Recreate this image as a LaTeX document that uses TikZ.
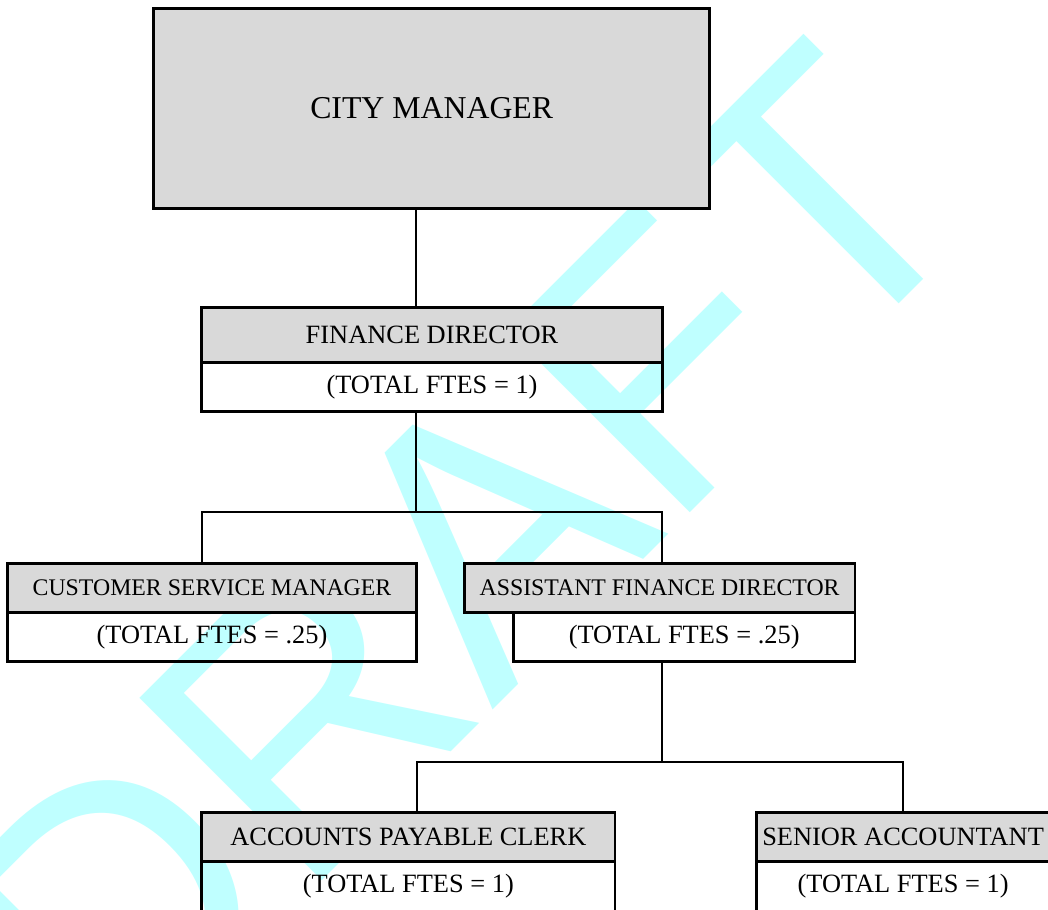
\documentclass[tikz,border=0pt]{standalone}
\usepackage{fontspec}
\setmainfont{Liberation Serif}
\newfontfamily\wmfamily{Liberation Sans}
\definecolor{hdrgray}{RGB}{217,217,217}
\definecolor{wmcyan}{RGB}{191,255,255}
\begin{document}
\begin{tikzpicture}[x=1pt,y=-1pt,
  boxbase/.style={draw=black, line width=2.7pt, inner sep=0pt, outer sep=0pt, text=black},
  hdr/.style={boxbase, fill=hdrgray, font=\fontsize{26.4}{30}\selectfont},
  hdrlong/.style={boxbase, fill=hdrgray, font=\fontsize{23.8}{28}\selectfont},
  body/.style={boxbase, font=\fontsize{26.4}{30}\selectfont},
  conn/.style={draw=black, line width=2.1pt},
  wm/.style={text=wmcyan, inner sep=0pt, outer sep=0pt, rotate=45, font=\wmfamily\fontsize{375}{400}\selectfont}
]
\useasboundingbox (0,0) rectangle (1048,909);
\clip (0,0) rectangle (1048,909);

% watermark
\node[wm, anchor=base east] (draft) at (993,210) {DRAFT};

% junction coordinates
\coordinate (j1) at (415.8,0);
\coordinate (bus1) at (415.8,511.7);
\coordinate (b1l) at (202,511.7);
\coordinate (b1r) at (661.7,511.7);
\coordinate (bus2) at (661.7,761.7);
\coordinate (b2l) at (416.7,761.7);
\coordinate (b2r) at (903.3,761.7);

% boxes
\node[boxbase, fill=hdrgray, minimum width=556pt, minimum height=200pt, font=\fontsize{31.8}{36}\selectfont] (cm) at (431.7,108.3) {CITY MANAGER};

\node[hdr, minimum width=460.6pt, minimum height=55pt] (fdh) at (432,334.8) {FINANCE DIRECTOR};
\node[body, minimum width=460.6pt, minimum height=49.4pt] (fdb) at (432,387) {(TOTAL FTES = 1)};

\node[hdrlong, minimum width=409.4pt, minimum height=49pt] (csmh) at (212,587.8) {CUSTOMER SERVICE MANAGER};
\node[body, minimum width=409.4pt, minimum height=49.4pt] (csmb) at (212,637) {(TOTAL FTES = .25)};

\node[hdrlong, minimum width=390.7pt, minimum height=49pt] (afdh) at (659.65,587.8) {ASSISTANT FINANCE DIRECTOR};
\node[body, minimum width=341.7pt, minimum height=49.4pt] (afdb) at (684.15,637) {(TOTAL FTES = .25)};

\node[hdr, minimum width=413.3pt, minimum height=49.4pt] (apch) at (408.35,837) {ACCOUNTS PAYABLE CLERK};
\node[body, minimum width=413.3pt, minimum height=49.4pt] (apcb) at (408.35,886.4) {(TOTAL FTES = 1)};

\node[hdr, minimum width=292.8pt, minimum height=49.4pt] (sah) at (903.1,837) {SENIOR ACCOUNTANT};
\node[body, minimum width=292.8pt, minimum height=49.4pt] (sab) at (903.1,886.4) {(TOTAL FTES = 1)};

% connectors
\draw[conn] (cm.south -| j1) -- (fdh.north -| j1);
\draw[conn] (fdb.south -| bus1) -- (bus1);
\draw[conn] (csmh.north -| b1l) -- (b1l) -- (b1r) -- (afdh.north -| b1r);
\draw[conn] (afdb.south -| bus2) -- (bus2);
\draw[conn] (apch.north -| b2l) -- (b2l) -- (b2r) -- (sah.north -| b2r);
\end{tikzpicture}
\end{document}
